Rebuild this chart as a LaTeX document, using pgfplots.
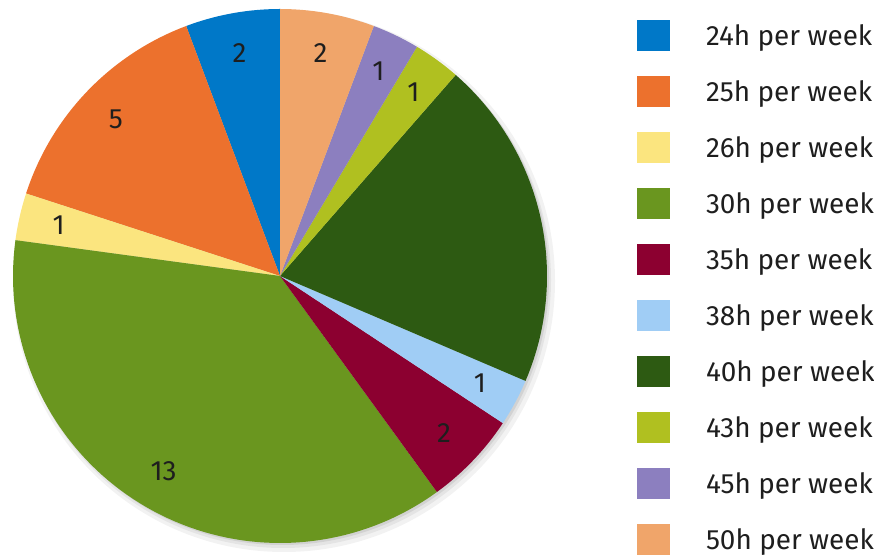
\documentclass[border=0pt]{standalone}
\usepackage{pgfplots}
\usepackage{pgfplotstable}
\pgfplotsset{compat=1.18}
\usepackage{fontspec}
\setmainfont{Fira Sans}
\definecolor{c24}{RGB}{0,120,200}
\definecolor{c25}{RGB}{236,113,45}
\definecolor{c26}{RGB}{251,229,127}
\definecolor{c30}{RGB}{106,150,31}
\definecolor{c35}{RGB}{140,0,48}
\definecolor{c38}{RGB}{160,205,245}
\definecolor{c40}{RGB}{45,90,18}
\definecolor{c43}{RGB}{176,192,32}
\definecolor{c45}{RGB}{140,127,191}
\definecolor{c50}{RGB}{240,165,106}
\definecolor{txt}{RGB}{30,30,30}

\pgfplotstableread{
label value col show
24h 2 c24 1
25h 5 c25 1
26h 1 c26 1
30h 13 c30 1
35h 2 c35 1
38h 1 c38 1
40h 7 c40 0
43h 1 c43 1
45h 1 c45 1
50h 2 c50 1
}\piedata

% pie geometry (axis units = pixels)
\def\cx{280}\def\cy{281}\def\R{267}

\pgfplotstablegetrowsof{\piedata}
\pgfmathtruncatemacro\nlast{\pgfplotsretval-1}
\def\total{0}
\pgfplotsforeachungrouped \i in {0,...,\nlast}{%
  \pgfplotstablegetelem{\i}{value}\of\piedata
  \pgfmathsetmacro\total{\total+\pgfplotsretval}%
}
\def\cur{90}
\pgfplotsforeachungrouped \i in {0,...,\nlast}{%
  \pgfplotstablegetelem{\i}{value}\of\piedata
  \pgfmathsetmacro\nxt{\cur+360*\pgfplotsretval/\total}%
  \pgfmathsetmacro\mid{(\cur+\nxt)/2}%
  \pgfmathsetmacro\lx{\cx+0.85*\R*cos(\mid)}%
  \pgfmathsetmacro\ly{\cy+0.85*\R*sin(\mid)}%
  \expandafter\xdef\csname sA\i\endcsname{\cur}%
  \expandafter\xdef\csname sB\i\endcsname{\nxt}%
  \expandafter\xdef\csname lx\i\endcsname{\lx}%
  \expandafter\xdef\csname ly\i\endcsname{\ly}%
  \global\let\cur\nxt
}

\begin{document}
\begin{tikzpicture}
\begin{axis}[
  scale only axis, width=874bp, height=557bp,
  xmin=0, xmax=874, ymin=0, ymax=557,
  hide axis, clip=false,
  legend cell align=left,
  legend image code/.code={%
    \fill[#1,draw=none] (0bp,-15.5bp) rectangle (33bp,15.5bp);
    \path[draw=none,fill=none] (0bp,0bp) -- (69bp,0bp);},
  legend style={draw=none, fill=none, inner sep=0pt, outer sep=0pt,
    at={(axis cs:637,537)}, anchor=north west,
    row sep=25bp,
    font=\fontsize{28}{30}\selectfont\color{txt},
    nodes={inner sep=0pt, outer sep=0pt}},
]
% soft shadow
\fill[black,opacity=0.05] (axis cs:\cx+4,\cy-5) circle[radius=\R+4];
\fill[black,opacity=0.06] (axis cs:\cx+3,\cy-4) circle[radius=\R+1];
\fill[black,opacity=0.08] (axis cs:\cx+2,\cy-2) circle[radius=\R];
\pgfplotsinvokeforeach{0,...,9}{
  \pgfplotstablegetelem{#1}{col}\of\piedata \let\thecol\pgfplotsretval
  \pgfplotstablegetelem{#1}{label}\of\piedata \let\thelab\pgfplotsretval
  \edef\tmp{\noexpand\addplot[fill=\thecol,draw=none,
      domain=\csname sA#1\endcsname:\csname sB#1\endcsname,samples=80]
    ({\cx+\R*cos(x)},{\cy+\R*sin(x)}) -- (axis cs:\cx,\cy) -- cycle;
    \noexpand\addlegendentry{\thelab\space per week}}%
  \tmp
}
\pgfplotsinvokeforeach{0,...,9}{
  \pgfplotstablegetelem{#1}{value}\of\piedata \let\theval\pgfplotsretval
  \pgfplotstablegetelem{#1}{show}\of\piedata \let\theshow\pgfplotsretval
  \ifnum\theshow=1
  \edef\tmp{\noexpand\node[font=\noexpand\fontsize{28}{30}\noexpand\selectfont,text=txt]
     at (axis cs:\csname lx#1\endcsname,\csname ly#1\endcsname) {\theval};}%
  \tmp
  \fi
}
\end{axis}
\pgfresetboundingbox
\useasboundingbox (current axis.south west) rectangle (current axis.north east);
\end{tikzpicture}
\end{document}
